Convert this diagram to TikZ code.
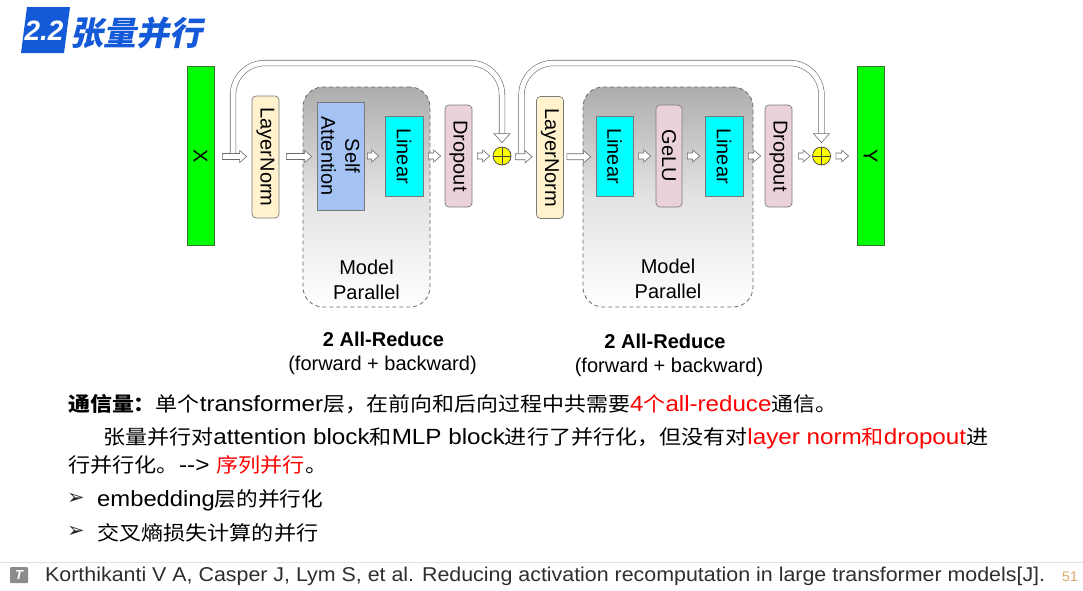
\documentclass[tikz,border=0pt]{standalone}
\usepackage{fontspec}
\usepackage{graphicx}
\usetikzlibrary{calc}
\setmainfont{Liberation Sans}
\newfontfamily\cjk{Noto Sans CJK SC}
\newfontfamily\cjkslant[FakeSlant=0.2]{Noto Sans CJK SC}
\newfontfamily\dejavu{DejaVu Sans}
\definecolor{ttlblue}{HTML}{145AD8}
\definecolor{edgegray}{HTML}{7A7A7A}
\definecolor{arrgray}{HTML}{6A6A6A}
\definecolor{lnfill}{HTML}{FFF2CC}
\definecolor{safill}{HTML}{A4C2F4}
\definecolor{linfill}{HTML}{00FFFF}
\definecolor{dpfill}{HTML}{EAD1DC}
\definecolor{xyfill}{HTML}{00FF00}
\definecolor{xyedge}{HTML}{3C6E3C}
\definecolor{plusfill}{HTML}{FFFF00}
\definecolor{footgray}{HTML}{2E2E2E}
\definecolor{pagenum}{HTML}{DDA868}
\definecolor{redtxt}{HTML}{FF0000}
\newcommand\cj[1]{{\cjk\fontsize{20}{24}\selectfont #1}}
\newcommand\latsize{\fontsize{22}{26}\selectfont}
\begin{document}
\begin{tikzpicture}[x=1pt,y=-1pt,
  box/.style={draw=edgegray, line width=0.7pt, inner sep=0pt},
  lnbox/.style={box, fill=lnfill, rounded corners=4pt},
  sabox/.style={box, fill=safill},
  linbox/.style={box, fill=linfill},
  dpbox/.style={box, fill=dpfill, rounded corners=4pt},
  xybox/.style={draw=xyedge, line width=0.8pt, fill=xyfill, inner sep=0pt, minimum width=27pt, minimum height=179pt},
  mpbox/.style={draw=arrgray, line width=0.8pt, dash pattern=on 4pt off 3pt, rounded corners=20pt, top color=black!32, bottom color=white, middle color=black!11, inner sep=0pt},
  vlab/.style={rotate=-90, font=\fontsize{20}{24}\selectfont, inner sep=0pt, align=center},
  hlab/.style={font=\fontsize{20}{25}\selectfont, inner sep=0pt, align=center},
  oplus/.style={circle, draw=black!75, line width=0.7pt, fill=plusfill, minimum size=18pt, inner sep=0pt,
     path picture={\draw[black!75, line width=0.7pt] (path picture bounding box.north) -- (path picture bounding box.south) (path picture bounding box.west) -- (path picture bounding box.east);}},
  harrow/.style={draw=arrgray, fill=white, line width=0.6pt, line join=miter,
     to path={let \p1=(\tikztostart), \p2=(\tikztotarget), \n1={0.5*(\y1+\y2)} in
       (\x1,\n1+3pt) -- (\x2-7pt,\n1+3pt) -- (\x2-7pt,\n1+6pt) -- (\x2,\n1) -- (\x2-7pt,\n1-6pt) -- (\x2-7pt,\n1-3pt) -- (\x1,\n1-3pt) -- cycle}},
  skipline/.style={draw=arrgray, line width=0.6pt, double=white, double distance=5pt, rounded corners=32pt},
  skiphead/.style={draw=arrgray, fill=white, line width=0.6pt, line join=miter},
  txt/.style={anchor=west, inner sep=0pt},
  bullet/.style={inner sep=0pt, text=black!85, font=\dejavu\fontsize{21}{21}\selectfont},
  bold20/.style={font=\bfseries\fontsize{20}{24}\selectfont, inner sep=0pt},
  reg20/.style={font=\fontsize{20}{24}\selectfont, inner sep=0pt}
]
\useasboundingbox (0,0) rectangle (1083,590);
\fill[white] (0,0) rectangle (1083,590);

% title
\fill[ttlblue] (27,7) -- (70,7) -- (64,53) -- (21,53) -- cycle;
\node[font=\bfseries\itshape\fontsize{28}{28}\selectfont, text=white, inner sep=0pt] (num) at (44,31) {2.2};
\node[anchor=west, inner sep=0pt, text=ttlblue, font=\cjkslant\bfseries\fontsize{33}{33}\selectfont] (ttl) at (70,33) {张量并行};

% block 1
\node[xybox, label={[vlab]center:X}] (X) at (200.5,156) {};
\node[lnbox, minimum width=27pt, minimum height=122pt, label={[vlab]center:LayerNorm}] (LN1) at (265.5,157) {};
\node[mpbox, minimum width=127pt, minimum height=220pt] (MP1) at (366.5,197) {};
\node[hlab] (MP1t) at (366.5,279.5) {Model\\Parallel};
\node[sabox, minimum width=47pt, minimum height=108pt, label={[vlab]center:{Self\\Attention}}] (SA) at (340.5,156) {};
\node[linbox, minimum width=38pt, minimum height=80pt, label={[vlab]center:Linear}] (L1) at (404,156) {};
\node[dpbox, minimum width=27pt, minimum height=102pt, label={[vlab]center:Dropout}] (D1) at (458.5,156) {};
\node[oplus] (P1) at (502,156) {};

% block 2
\node[lnbox, minimum width=27pt, minimum height=122pt, label={[vlab]center:LayerNorm}] (LN2) at (550,157.5) {};
\node[mpbox, minimum width=170pt, minimum height=220pt] (MP2) at (668,197) {};
\node[hlab] (MP2t) at (668,278.5) {Model\\Parallel};
\node[linbox, minimum width=37pt, minimum height=80pt, label={[vlab]center:Linear}] (L2) at (614.5,156) {};
\node[dpbox, minimum width=26pt, minimum height=102pt, label={[vlab]center:GeLU}] (G) at (669,156) {};
\node[linbox, minimum width=38pt, minimum height=80pt, label={[vlab]center:Linear}] (L3) at (724,156) {};
\node[dpbox, minimum width=27pt, minimum height=102pt, label={[vlab]center:Dropout}] (D2) at (778.5,156) {};
\node[oplus] (P2) at (821.5,156) {};
\node[xybox, label={[vlab]center:Y}] (Y) at (870.5,156) {};

% main arrows
\draw[harrow] ([xshift=8pt]X.east) to ([xshift=-5pt]LN1.west);
\draw[harrow] ([xshift=7pt]LN1.east) to ([xshift=-5pt]SA.west);
\draw[harrow] ([xshift=3pt]SA.east) to ([xshift=-6pt]L1.west);
\draw[harrow] ([xshift=5pt]L1.east) to ([xshift=-4pt]D1.west);
\draw[harrow] ([xshift=5pt]D1.east) to ([xshift=-3pt]P1.west);
\draw[harrow] ([xshift=4pt]P1.east) to ([xshift=-4pt]LN2.west);
\draw[harrow] ([xshift=3pt]LN2.east) to ([xshift=-5pt]L2.west);
\draw[harrow] ([xshift=5pt]L2.east) to ([xshift=-5pt]G.west);
\draw[harrow] ([xshift=5pt]G.east) to ([xshift=-5pt]L3.west);
\draw[harrow] ([xshift=5pt]L3.east) to ([xshift=-4pt]D2.west);
\draw[harrow] ([xshift=6pt]D2.east) to ([xshift=-2pt]P2.west);
\draw[harrow] ([xshift=5pt]P2.east) to ([xshift=-8pt]Y.west);

% skip connections
\coordinate (top) at (0,63);
\coordinate (s1) at (233,153);
\coordinate (s2) at (521.5,153);
\draw[skipline] (s1) -- (s1 |- top) -- (P1 |- top) -- ([yshift=13pt]P1.north);
\draw[skiphead] ([yshift=4pt]P1.north) -- ++(-8,-9) -- ++(16,0) -- cycle;
\draw[skipline] (s2) -- (s2 |- top) -- (P2 |- top) -- ([yshift=13pt]P2.north);
\draw[skiphead] ([yshift=4pt]P2.north) -- ++(-8,-9) -- ++(16,0) -- cycle;

% captions
\node[bold20] (AR1) at (383.5,339) {2 All-Reduce};
\node[reg20] (FB1) at (382.5,365) {(forward + backward)};
\node[bold20] (AR2) at (665,341) {2 All-Reduce};
\node[reg20] (FB2) at (669,367) {(forward + backward)};

% text lines
\node[txt] (l1) at (68,404) {\resizebox{769pt}{\height}{\latsize{\cjk\bfseries\fontsize{20}{24}\selectfont 通信量：}\cj{单个}transformer\cj{层，在前向和后向过程中共需要}\textcolor{redtxt}{4\cj{个}all-reduce}\cj{通信。}}};
\node[txt] (l2) at (103,438) {\resizebox{885pt}{\height}{\latsize\cj{张量并行对}attention block\cj{和}MLP block\cj{进行了并行化，但没有对}\textcolor{redtxt}{layer norm\cj{和}dropout}\cj{进}}};
\node[txt] (l3) at (68,465) {\resizebox{259pt}{\height}{\latsize\cj{行并行化。}-{}-{}> \textcolor{redtxt}{\cj{序列并行}}\cj{。}}};
\node[bullet] (b1) at (76,499) {➢};
\node[txt] (l4) at (97,500) {\resizebox{226pt}{\height}{\latsize embedding\cj{层的并行化}}};
\node[bullet] (b2) at (76,532) {➢};
\node[txt] (l5) at (97,533) {\resizebox{221pt}{\height}{\cj{交叉熵损失计算的并行}}};

% footer
\draw[draw=black!12, line width=1pt] (0,562) -- (1083,562);
\fill[black!45, rounded corners=1pt] (10,567) rectangle (28,583);
\node[text=white, inner sep=0pt, font=\bfseries\itshape\fontsize{13}{13}\selectfont] (ico) at (19,575) {T};
\node[txt, text=footgray] (ref) at (45,576) {\resizebox{1000pt}{\height}{\fontsize{20}{24}\selectfont Korthikanti V A, Casper J, Lym S, et al. Reducing activation recomputation in large transformer models[J].}};
\node[inner sep=0pt, text=pagenum, font=\fontsize{14}{14}\selectfont] (pg) at (1070,577) {51};
\end{tikzpicture}
\end{document}
